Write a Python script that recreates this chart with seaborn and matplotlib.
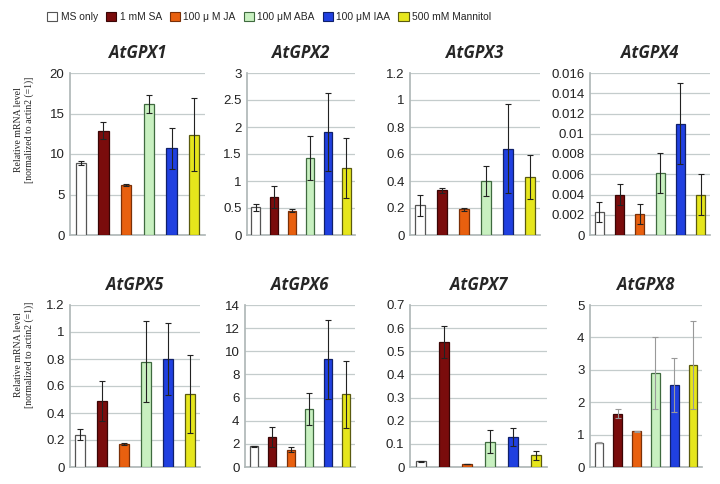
import matplotlib
matplotlib.use("Agg")
import matplotlib.pyplot as plt
import matplotlib.ticker as mticker
from matplotlib.patches import Patch
import seaborn as sns

# --------------------------------------------------------------------------- #
# Data
# --------------------------------------------------------------------------- #
CONDITIONS = ["MS only", "1 mM SA", "100 \u03bc M JA", "100 \u03bcM ABA",
              "100 \u03bcM IAA", "500 mM Mannitol"]
COLORS = ["#ffffff", "#7a0c0c", "#e8600f", "#c8f0c0", "#2040e0", "#e6e61c"]
EDGES = ["#555555", "#3a0505", "#7a3008", "#3f6a3f", "#10206a", "#5a5a10"]

GENES = ["AtGPX1", "AtGPX2", "AtGPX3", "AtGPX4",
         "AtGPX5", "AtGPX6", "AtGPX7", "AtGPX8"]

gpx1_mean = [8.9, 12.9, 6.2, 16.2, 10.7, 12.4]
gpx1_err = [0.2, 1.0, 0.1, 1.1, 2.5, 4.5]
gpx2_mean = [0.51, 0.70, 0.45, 1.43, 1.91, 1.24]
gpx2_err = [0.06, 0.20, 0.03, 0.41, 0.72, 0.56]
gpx3_mean = [0.22, 0.33, 0.19, 0.40, 0.64, 0.43]
gpx3_err = [0.08, 0.02, 0.01, 0.11, 0.33, 0.16]
gpx4_mean = [0.0023, 0.0040, 0.0021, 0.0061, 0.0110, 0.0040]
gpx4_err = [0.0010, 0.0010, 0.0010, 0.0020, 0.0040, 0.0020]
gpx5_mean = [0.24, 0.49, 0.17, 0.78, 0.80, 0.54]
gpx5_err = [0.04, 0.15, 0.01, 0.30, 0.27, 0.29]
gpx6_mean = [1.8, 2.6, 1.5, 5.0, 9.3, 6.3]
gpx6_err = [0.05, 0.9, 0.2, 1.4, 3.4, 2.9]
gpx7_mean = [0.025, 0.54, 0.013, 0.11, 0.13, 0.05]
gpx7_err = [0.003, 0.07, 0.002, 0.05, 0.04, 0.02]
gpx8_mean = [0.75, 1.65, 1.10, 2.90, 2.52, 3.15]
gpx8_err = [0.02, 0.15, 0.02, 1.10, 0.83, 1.35]

MEANS = [gpx1_mean, gpx2_mean, gpx3_mean, gpx4_mean,
         gpx5_mean, gpx6_mean, gpx7_mean, gpx8_mean]
ERRS = [gpx1_err, gpx2_err, gpx3_err, gpx4_err,
        gpx5_err, gpx6_err, gpx7_err, gpx8_err]
YMAX = [20, 3, 1.2, 0.016, 1.2, 14, 0.7, 5]
YSTEP = [5, 0.5, 0.2, 0.002, 0.2, 2, 0.1, 1]

# panel extents in pixels (left, right) for top and bottom rows
W, H = 720, 484
X_EXTENTS = [(70, 205), (247, 355), (410, 540), (590, 710),
             (70, 200), (245, 355), (410, 547), (590, 702)]
ROW_Y = [(73, 235), (305, 467)]
LABEL_Y = [130, 355]

sns.set_theme(style="white")
plt.rcParams["font.family"] = ["Liberation Sans", "DejaVu Sans"]

fig = plt.figure(figsize=(W / 100, H / 100), dpi=100)

for i, gene in enumerate(GENES):
    x0, x1 = X_EXTENTS[i]
    ytop, ybot = ROW_Y[i // 4]
    ax = fig.add_axes([x0 / W, 1 - ybot / H, (x1 - x0) / W, (ybot - ytop) / H])

    sns.barplot(x=CONDITIONS, y=MEANS[i], hue=CONDITIONS, palette=COLORS,
                saturation=1, legend=False, width=0.45, errorbar=None, ax=ax,
                linewidth=0.9, zorder=3)
    for bar, ec in zip(ax.patches, EDGES):
        bar.set_edgecolor(ec)

    ecol = "#999999" if gene == "AtGPX8" else "#222222"
    ax.errorbar(range(len(CONDITIONS)), MEANS[i], yerr=ERRS[i], fmt="none",
                ecolor=ecol, elinewidth=0.8, capsize=2.5, capthick=0.8,
                zorder=4)

    ax.set_xlim(-0.47, 5.47)
    ax.set_ylim(0, YMAX[i])
    ax.yaxis.set_major_locator(mticker.MultipleLocator(YSTEP[i]))
    ax.yaxis.set_major_formatter(
        mticker.FuncFormatter(lambda v, _: f"{round(v, 6):g}"))
    ax.set_xticks([])
    ax.set_xlabel("")
    ax.set_ylabel("")
    ax.tick_params(axis="y", labelsize=9.5, length=0, pad=4,
                   labelcolor="#222222")
    ax.grid(axis="y", color="#c4cccc", linewidth=0.9, zorder=0)
    ax.set_axisbelow(True)
    for side in ("top", "right"):
        ax.spines[side].set_visible(False)
    ax.spines["left"].set_color("#b0b8b8")
    ax.spines["bottom"].set_color("#b0b8b8")
    ax.set_title(gene, fontsize=12, fontweight="bold", style="italic",
                 family="Open Sans", pad=11)

    if i % 4 == 0:
        fig.text(24 / W, 1 - LABEL_Y[i // 4] / H,
                 "Relative mRNA level\n[normalized to actin2 (=1)]",
                 rotation=90, ha="center", va="center", fontsize=7,
                 family="Liberation Serif", color="#222222",
                 linespacing=1.25)

handles = [Patch(facecolor=c, edgecolor=e, linewidth=0.8)
           for c, e in zip(COLORS, EDGES)]
fig.legend(handles, CONDITIONS, loc="center left",
           bbox_to_anchor=(47 / W, 1 - 17 / H),
           ncol=6, frameon=False, handlelength=1.0,
           handleheight=1.0, handletextpad=0.35, columnspacing=0.75,
           borderaxespad=0, borderpad=0,
           prop={"family": "Liberation Sans", "size": 7.4})

plt.savefig("out.png", dpi=100)
plt.close(fig)
